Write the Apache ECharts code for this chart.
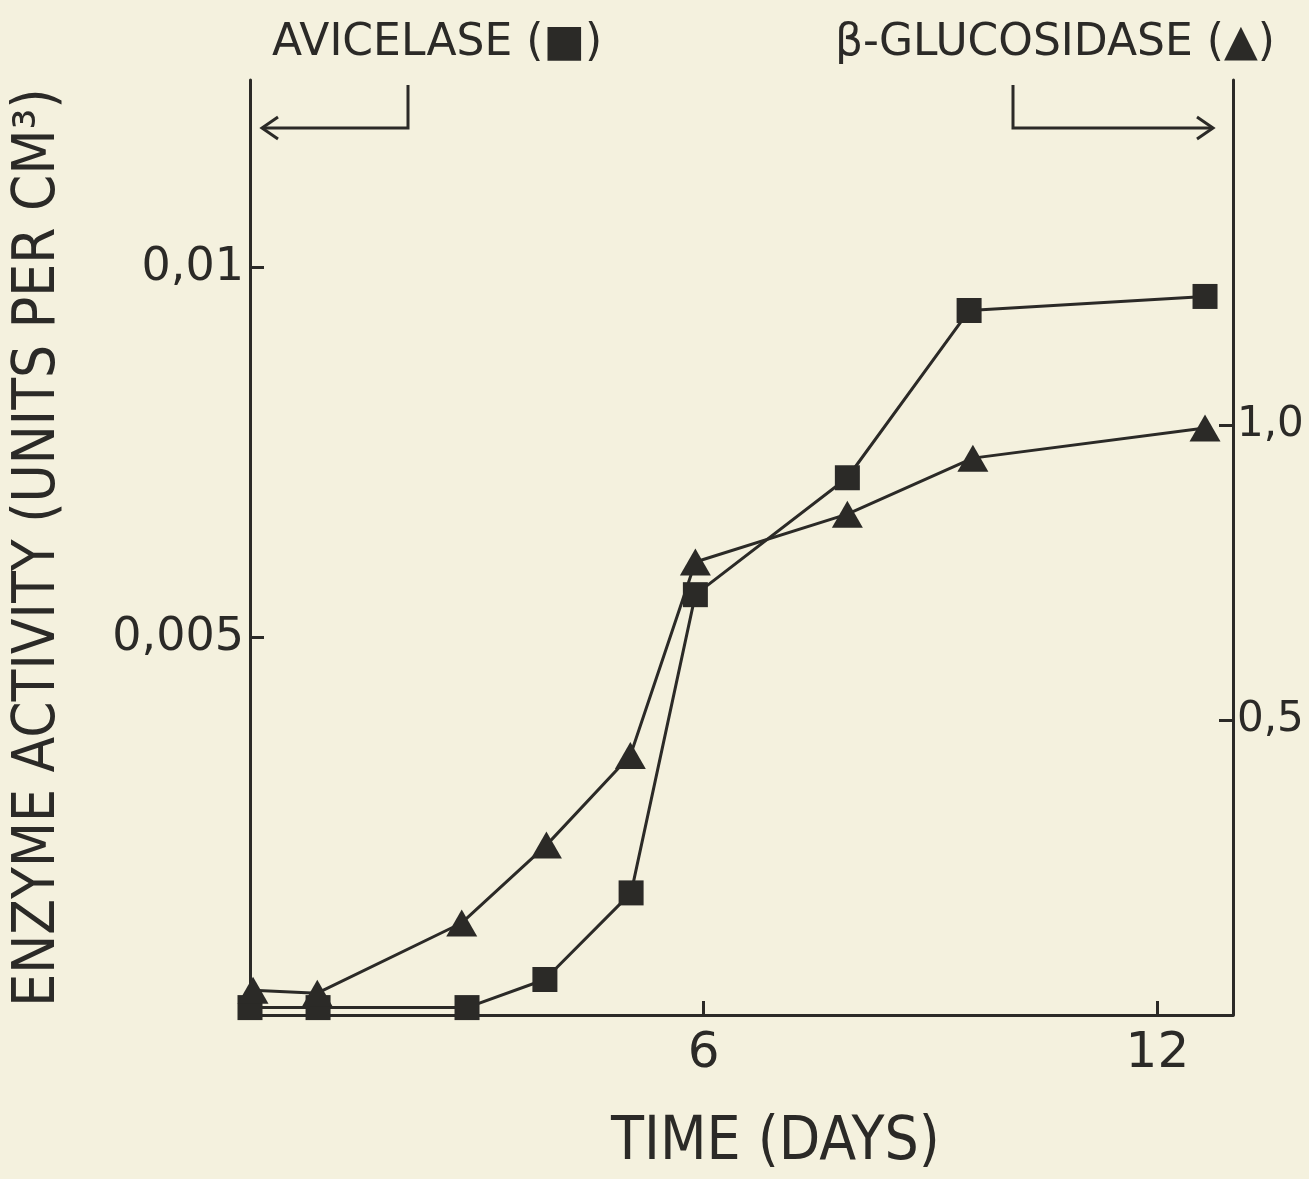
<!DOCTYPE html>
<html>
<head>
<meta charset="utf-8">
<script src="https://cdn.jsdelivr.net/npm/echarts@6/dist/echarts.min.js"></script>
<style>
  html, body { margin: 0; padding: 0; background: #f4f1de; }
  #chart { width: 1309px; height: 1179px; }
</style>
</head>
<body>
<div id="chart"></div>
<script>
// avicelase (squares, left axis)
const avicelaseDays = [0, 0.9, 2.87, 3.9, 5.04, 5.89, 7.9, 9.51, 12.63];
const avicelaseActivity = [0, 0, 0, 0.00038, 0.00155, 0.00558, 0.00716, 0.00942, 0.00961];

// beta-glucosidase (triangles, right axis)
const glucosidaseDays = [0.04, 0.89, 2.8, 3.92, 5.03, 5.89, 7.9, 9.56, 12.63];
const glucosidaseActivity = [0.042, 0.037, 0.156, 0.288, 0.44, 0.768, 0.849, 0.944, 0.995];

const xTicks = [6, 12];
const leftTicks = [0.005, 0.01];
const rightTicks = [0.5, 1.0];

const ink = '#2b2a27';
const font = 'DejaVu Sans';
const condensed = 'DejaVu Sans Condensed';

function comma(v) {
  return String(v).replace('.', ',');
}

const option = {
  backgroundColor: '#f4f1de',
  animation: false,
  grid: { left: 250, right: 76, top: 80, bottom: 164, outerBoundsMode: 'none', containLabel: false },
  xAxis: {
    type: 'value',
    min: 0,
    max: 13,
    name: 'TIME (DAYS)',
    nameLocation: 'middle',
    nameGap: 98,
    nameTextStyle: { color: ink, fontFamily: condensed, fontSize: 60, padding: [0, 0, 0, 68] },
    axisLine: { onZero: false, lineStyle: { color: ink, width: 3 } },
    axisTick: { inside: true, length: 14, lineStyle: { width: 3, color: ink }, customValues: xTicks },
    axisLabel: { color: ink, fontFamily: font, fontSize: 50, margin: 14, customValues: xTicks },
    splitLine: { show: false }
  },
  yAxis: [
    {
      type: 'value',
      position: 'left',
      min: -0.0001,
      max: 0.012535,
      name: 'ENZYME ACTIVITY (UNITS PER CM³)',
      nameLocation: 'middle',
      nameRotate: 90,
      nameGap: 182,
      nameTextStyle: { color: ink, fontFamily: condensed, fontSize: 58 },
      axisLine: { show: true, onZero: false, lineStyle: { color: ink, width: 3 } },
      axisTick: { show: true, inside: true, length: 14, lineStyle: { width: 3, color: ink }, customValues: leftTicks },
      axisLabel: { color: ink, fontFamily: font, fontSize: 46, margin: 6, customValues: leftTicks, formatter: comma },
      splitLine: { show: false }
    },
    {
      type: 'value',
      position: 'right',
      min: 0,
      max: 1.585,
      axisLine: { show: true, onZero: false, lineStyle: { color: ink, width: 3 } },
      axisTick: { show: true, inside: true, length: 14, lineStyle: { width: 3, color: ink }, customValues: rightTicks },
      axisLabel: {
        color: ink, fontFamily: font, fontSize: 42, margin: 4, customValues: rightTicks,
        formatter: function (v) { return comma(v.toFixed(1)); }
      },
      splitLine: { show: false }
    }
  ],
  series: [
    {
      name: 'AVICELASE',
      type: 'line',
      yAxisIndex: 0,
      data: avicelaseDays.map((d, i) => [d, avicelaseActivity[i]]),
      symbol: 'rect',
      symbolSize: 25,
      clip: false,
      lineStyle: { color: ink, width: 3 },
      itemStyle: { color: ink }
    },
    {
      name: 'β-GLUCOSIDASE',
      type: 'line',
      yAxisIndex: 1,
      data: glucosidaseDays.map((d, i) => [d, glucosidaseActivity[i]]),
      symbol: 'triangle',
      symbolSize: [31, 27],
      clip: false,
      lineStyle: { color: ink, width: 3 },
      itemStyle: { color: ink }
    }
  ],
  graphic: [
    {
      type: 'text', left: 272, top: 22,
      style: { text: 'AVICELASE (■)', fill: ink, font: '44px "DejaVu Sans"' }
    },
    {
      type: 'text', left: 835, top: 22,
      style: { text: 'β-GLUCOSIDASE (▲)', fill: ink, font: '44px "DejaVu Sans"' }
    },
    {
      type: 'polyline',
      shape: { points: [[408, 85], [408, 128], [262, 128]] },
      style: { stroke: ink, lineWidth: 3, fill: null }
    },
    {
      type: 'polyline',
      shape: { points: [[278, 117], [262, 128], [278, 139]] },
      style: { stroke: ink, lineWidth: 3, fill: null }
    },
    {
      type: 'polyline',
      shape: { points: [[1013, 85], [1013, 128], [1213, 128]] },
      style: { stroke: ink, lineWidth: 3, fill: null }
    },
    {
      type: 'polyline',
      shape: { points: [[1197, 117], [1213, 128], [1197, 139]] },
      style: { stroke: ink, lineWidth: 3, fill: null }
    }
  ]
};

const myChart = echarts.init(document.getElementById('chart'));
myChart.setOption(option);
</script>
</body>
</html>
